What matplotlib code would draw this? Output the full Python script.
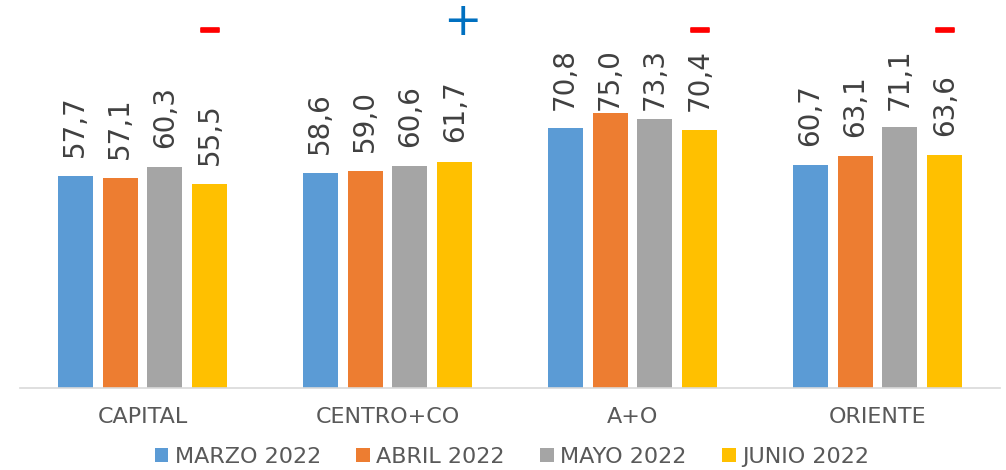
import matplotlib
matplotlib.use("Agg")
import matplotlib.pyplot as plt
import matplotlib.patheffects as pe
import numpy as np

regiones = ["CAPITAL", "CENTRO+CO", "A+O", "ORIENTE"]
meses = ["MARZO 2022", "ABRIL 2022", "MAYO 2022", "JUNIO 2022"]
marzo = [57.7, 58.6, 70.8, 60.7]
abril = [57.1, 59.0, 75.0, 63.1]
mayo = [60.3, 60.6, 73.3, 71.1]
junio = [55.5, 61.7, 70.4, 63.6]
signos = ["−", "+", "−", "−"]

colores = ["#5b9bd5", "#ed7d31", "#a5a5a5", "#ffc000"]
color_signo = {"−": "#ff0000", "+": "#0070c0"}

plt.rcParams["font.family"] = ["DejaVu Sans"]

fig = plt.figure(figsize=(10.06, 4.70), dpi=100)
ax = fig.add_axes([20 / 1006, 82 / 470, 980 / 1006, 367 / 470])

x = np.arange(len(regiones))
ancho = 0.143
paso = 0.183
series = [marzo, abril, mayo, junio]

# como en Excel: la etiqueta se corre hacia abajo si no cabe arriba
sep = 5.2
tope = 75.7

for k, (vals, nombre) in enumerate(zip(series, meses)):
    pos = x + (k - 1.5) * paso
    barras = ax.bar(pos, vals, ancho, color=colores[k], label=nombre)
    for b, v in zip(barras, vals):
        ax.text(
            b.get_x() + b.get_width() / 2,
            min(v + sep, tope),
            f"{v:.1f}".replace(".", ","),
            rotation=90,
            ha="center",
            va="bottom",
            fontsize=20,
            color="#404040",
        )

# signos sobre cada grupo
for i, s in enumerate(signos):
    if s == "+":
        ax.text(x[i] + 1.5 * paso + 0.03, 99.7, s, ha="center", va="center",
                fontsize=33, color=color_signo[s], clip_on=False)
    else:
        ax.text(x[i] + 1.5 * paso, 97.2, s, ha="center", va="center",
                fontsize=21, fontweight="bold", color=color_signo[s], clip_on=False,
                path_effects=[pe.withStroke(linewidth=1.2, foreground=color_signo[s])])

ax.set_xlim(-0.5, len(regiones) - 0.5)
ax.set_ylim(0, 100)
ax.set_xticks(x)
ax.set_xticklabels(regiones, fontsize=16, color="#595959")
ax.tick_params(axis="x", length=0, pad=14)
ax.set_yticks([])
for lado in ["top", "right", "left"]:
    ax.spines[lado].set_visible(False)
ax.spines["bottom"].set_color("#d9d9d9")
ax.spines["bottom"].set_linewidth(1.2)

leg = fig.legend(
    loc="center",
    bbox_to_anchor=(512 / 1006, 1 - 457 / 470),
    ncol=4,
    frameon=False,
    fontsize=16,
    handlelength=0.6,
    handleheight=0.6,
    handletextpad=0.3,
    columnspacing=1.6,
)
for t in leg.get_texts():
    t.set_color("#595959")

fig.savefig("out.png", dpi=100)
